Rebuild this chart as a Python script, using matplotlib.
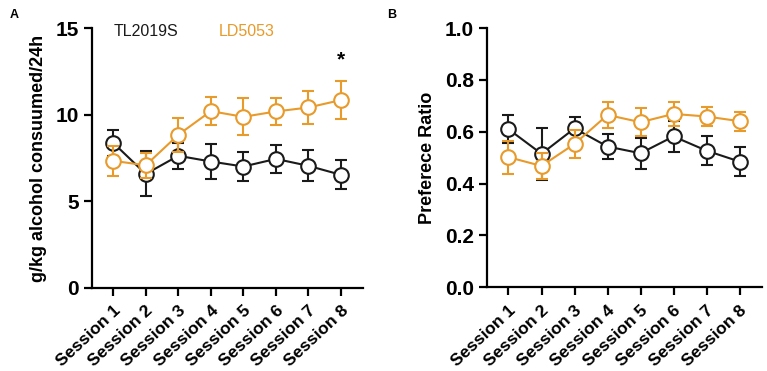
import matplotlib.pyplot as plt

sessions = ["Session 1", "Session 2", "Session 3", "Session 4",
            "Session 5", "Session 6", "Session 7", "Session 8"]

# panel A: g/kg alcohol consumed per 24h
tl_intake = [8.38, 6.58, 7.63, 7.30, 7.01, 7.45, 7.05, 6.53]
tl_intake_err = [0.75, 1.30, 0.75, 1.03, 0.84, 0.79, 0.89, 0.84]
ld_intake = [7.34, 7.08, 8.84, 10.21, 9.88, 10.19, 10.42, 10.85]
ld_intake_err = [0.85, 0.72, 0.98, 0.80, 1.06, 0.79, 0.93, 1.08]

# panel B: preference ratio
tl_pref = [0.610, 0.515, 0.613, 0.543, 0.517, 0.582, 0.527, 0.485]
tl_pref_err = [0.055, 0.100, 0.046, 0.050, 0.060, 0.060, 0.055, 0.056]
ld_pref = [0.502, 0.468, 0.553, 0.665, 0.637, 0.669, 0.659, 0.641]
ld_pref_err = [0.064, 0.050, 0.054, 0.051, 0.055, 0.045, 0.036, 0.037]

BLACK = "#1a1a1a"
ORANGE = "#E89A2A"
FONT = "Liberation Sans"

plt.rcParams['font.family'] = [FONT, 'DejaVu Sans']

fig = plt.figure(figsize=(7.67, 3.71), dpi=100)
axA = fig.add_axes([0.120, 0.224, 0.353, 0.700])
axB = fig.add_axes([0.635, 0.226, 0.358, 0.698])

x = list(range(1, len(sessions) + 1))


def draw_series(ax, y, err, color, z):
    ax.errorbar(x, y, yerr=err, color=color, lw=1.5, elinewidth=1.5,
                capsize=4.5, capthick=1.5, marker='o', markersize=10.5,
                markerfacecolor='white', markeredgecolor=color,
                markeredgewidth=1.5, zorder=z, clip_on=False)


def style_axis(ax):
    for side in ['top', 'right']:
        ax.spines[side].set_visible(False)
    for side in ['left', 'bottom']:
        ax.spines[side].set_linewidth(1.6)
    ax.set_xlim(0.35, 8.67)
    ax.set_xticks(x)
    ax.set_xticklabels(sessions, rotation=43, ha='right',
                       rotation_mode='anchor', fontsize=12.5,
                       fontweight='bold')
    ax.tick_params(axis='both', width=1.6, length=6)
    ax.tick_params(axis='x', pad=5)
    ax.tick_params(axis='y', labelsize=15)
    for lab in ax.get_yticklabels():
        lab.set_fontweight('bold')


draw_series(axA, tl_intake, tl_intake_err, BLACK, 3)
draw_series(axA, ld_intake, ld_intake_err, ORANGE, 4)
axA.set_ylim(0, 15)
axA.set_yticks([0, 5, 10, 15])
style_axis(axA)
axA.set_ylabel("g/kg alcohol consuumed/24h", fontsize=13, fontweight='bold',
               labelpad=6)
axA.text(8, 12.6, "*", ha='center', va='bottom', fontsize=15, fontweight='bold')
axA.text(1.0, 14.8, "TL2019S", color=BLACK, fontsize=11.5, va='center')
axA.text(4.25, 14.8, "LD5053", color=ORANGE, fontsize=11.5, va='center')

draw_series(axB, tl_pref, tl_pref_err, BLACK, 3)
draw_series(axB, ld_pref, ld_pref_err, ORANGE, 4)
axB.set_ylim(0, 1.0)
axB.set_yticks([0.0, 0.2, 0.4, 0.6, 0.8, 1.0])
axB.set_yticklabels(["0.0", "0.2", "0.4", "0.6", "0.8", "1.0"])
style_axis(axB)
axB.set_ylabel("Preferece Ratio", fontsize=13, fontweight='bold', labelpad=6)

fig.text(0.012, 0.975, "A", fontsize=9, fontweight='bold', va='top')
fig.text(0.505, 0.975, "B", fontsize=9, fontweight='bold', va='top')

fig.savefig("out.png", dpi=100)
